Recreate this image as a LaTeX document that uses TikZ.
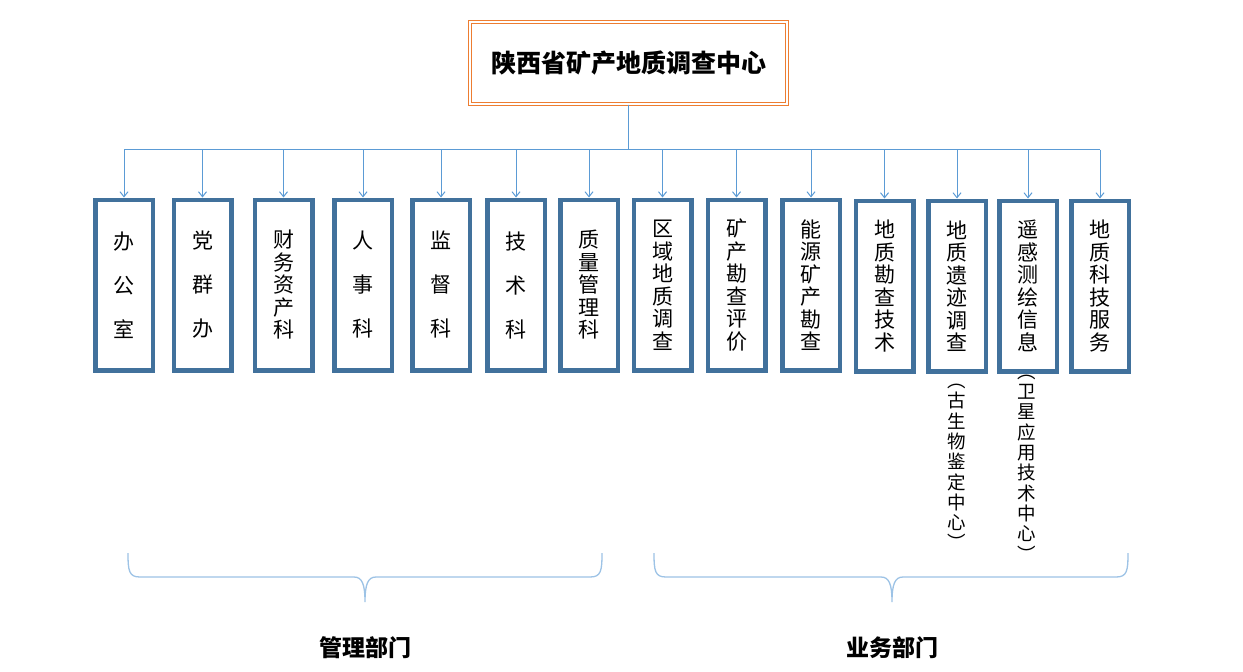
\documentclass[tikz,border=0pt]{standalone}
\usepackage{fontspec}
\setmainfont{Noto Sans CJK SC}
\usetikzlibrary{arrows.meta}
\definecolor{boxblue}{HTML}{41719C}
\definecolor{connblue}{HTML}{5B9BD5}
\definecolor{bracecol}{HTML}{9DC3E6}
\definecolor{titleorange}{HTML}{ED7D31}
\tikzset{
  dept/.style={draw=boxblue, line width=4.5pt, fill=white, minimum width=57.5pt,
    minimum height=170.5pt, inner sep=0pt, align=center,
    font=\fontsize{21}{22.5}\selectfont},
  deptwide/.style={dept, font=\fontsize{21}{44}\selectfont},
  conn/.style={draw=connblue, line width=1pt},
  arr/.style={conn, -{Straight Barb[length=5pt,width=8pt]}},
  note/.style={inner sep=0pt, align=center, font=\fontsize{18.5}{20.3}\selectfont},
  bracepath/.style={draw=bracecol, line width=1.3pt},
  grouplabel/.style={inner sep=0pt, font=\fontsize{23}{25}\selectfont\bfseries}
}
\begin{document}
\begin{tikzpicture}[x=1pt, y=-1pt]
\useasboundingbox[fill=white] (0,0) rectangle (1243,672);

\node[draw=titleorange, double=white, line width=1.2pt, double distance=1.8pt,
      minimum width=317pt, minimum height=82pt, inner sep=0pt,
      font=\fontsize{25}{28}\selectfont\bfseries] (top) at (628.5,63) {陕西省矿产地质调查中心};

\node[deptwide] (b1) at (124,285) {办\\公\\室};
\node[deptwide] (b2) at (202.5,285) {党\\群\\办};
\node[dept] (b3) at (283.5,285) {财\\务\\资\\产\\科};
\node[deptwide] (b4) at (363,285) {人\\事\\科};
\node[deptwide] (b5) at (441,285) {监\\督\\科};
\node[deptwide] (b6) at (516,285) {技\\术\\科};
\node[dept] (b7) at (589,285) {质\\量\\管\\理\\科};
\node[dept] (b8) at (662.5,285) {区\\域\\地\\质\\调\\查};
\node[dept] (b9) at (736.5,285) {矿\\产\\勘\\查\\评\\价};
\node[dept] (b10) at (811,285) {能\\源\\矿\\产\\勘\\查};
\node[dept] (b11) at (884.5,286) {地\\质\\勘\\查\\技\\术};
\node[dept] (b12) at (957,286) {地\\质\\遗\\迹\\调\\查};
\node[dept] (b13) at (1028,286) {遥\\感\\测\\绘\\信\\息};
\node[dept] (b14) at (1100,286) {地\\质\\科\\技\\服\\务};

\node[note] (n12) at (957,467) {︵\\古\\生\\物\\鉴\\定\\中\\心\\︶};
\node[note] (n13) at (1027,468) {︵\\卫\\星\\应\\用\\技\\术\\中\\心\\︶};

\draw[conn] (top.south) -- ++(0,45) coordinate (bus);
\draw[conn] (bus -| b1.north) -- (bus -| b14.north);
\foreach \b in {b1,b2,b3,b4,b5,b6,b7,b8,b9,b10,b11,b12,b13,b14}
  \draw[arr] (bus -| \b.north) -- (\b.north);

% braces
\draw[bracepath] (128,553) .. controls (128,571) and (129,577) .. (140,577)
  -- (354,577) .. controls (362,577) and (365,584) .. (365,602)
  .. controls (365,584) and (368,577) .. (376,577)
  -- (590,577) .. controls (601,577) and (602,571) .. (602,553);
\draw[bracepath] (654,553) .. controls (654,571) and (655,577) .. (666,577)
  -- (881,577) .. controls (889,577) and (892,584) .. (892,602)
  .. controls (892,584) and (895,577) .. (903,577)
  -- (1116,577) .. controls (1127,577) and (1128,571) .. (1128,553);

\node[grouplabel] (g1) at (365,648) {管理部门};
\node[grouplabel] (g2) at (892,648) {业务部门};
\end{tikzpicture}
\end{document}
